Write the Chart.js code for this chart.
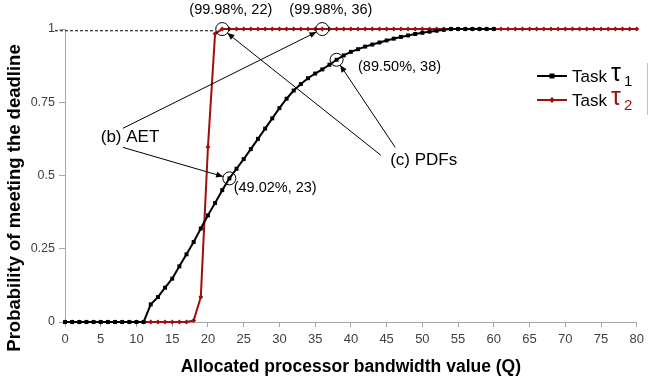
<!DOCTYPE html>
<html>
<head>
<meta charset="utf-8">
<script src="https://cdn.jsdelivr.net/npm/chart.js@4/dist/chart.umd.min.js"></script>
<style>
  html, body { margin: 0; padding: 0; background: #fff; }
  #wrap { width: 649px; height: 381px; position: relative; }
</style>
</head>
<body>
<div id="wrap"><canvas id="chart"></canvas></div>
<script>
// --- Data ---
const qValues = [
  0, 1, 2, 3, 4, 5, 6, 7, 8, 9, 10, 11, 12, 13, 14, 15, 16, 17, 18, 19, 20,
  21, 22, 23, 24, 25, 26, 27, 28, 29, 30, 31, 32, 33, 34, 35, 36, 37, 38, 39, 40,
  41, 42, 43, 44, 45, 46, 47, 48, 49, 50, 51, 52, 53, 54, 55, 56, 57, 58, 59, 60,
  61, 62, 63, 64, 65, 66, 67, 68, 69, 70, 71, 72, 73, 74, 75, 76, 77, 78, 79, 80
];

// Task tau1 (black), Q = 0..60
const task1Prob = [
  0, 0, 0, 0, 0, 0, 0, 0, 0, 0, 0, 0,
  0.06, 0.085, 0.117, 0.148, 0.19, 0.231, 0.273, 0.319, 0.364,
  0.406, 0.45, 0.4902, 0.523, 0.556, 0.59, 0.625, 0.66, 0.695, 0.73,
  0.762, 0.79, 0.812, 0.832, 0.848, 0.862, 0.878, 0.895, 0.91, 0.922,
  0.931, 0.94, 0.947, 0.954, 0.961, 0.967, 0.973, 0.978, 0.983, 0.987,
  0.991, 0.994, 0.997, 1, 1, 1, 1, 1, 1, 1
];

// Task tau2 (dark red), Q = 0..80
const task2Prob = [
  0, 0, 0, 0, 0, 0, 0, 0, 0, 0, 0, 0, 0, 0, 0, 0, 0, 0,
  0.005, 0.085, 0.597, 0.984,
  0.9998, 0.9998, 0.9998, 0.9998, 0.9998, 0.9998, 0.9998, 0.9998, 0.9998, 0.9998,
  0.9998, 0.9998, 0.9998, 0.9998, 0.9998, 0.9998, 0.9998, 0.9998, 0.9998, 0.9998,
  0.9998, 0.9998, 0.9998, 0.9998, 0.9998, 0.9998, 0.9998, 0.9998, 0.9998, 0.9998,
  0.9998, 0.9998, 0.9998, 0.9998, 0.9998, 0.9998, 0.9998, 0.9998, 0.9998, 0.9998,
  0.9998, 0.9998, 0.9998, 0.9998, 0.9998, 0.9998, 0.9998, 0.9998, 0.9998, 0.9998,
  0.9998, 0.9998, 0.9998, 0.9998, 0.9998, 0.9998, 0.9998, 0.9998, 0.9998
];

const yTicks = [0, 0.25, 0.5, 0.75, 1];
const yTickLabels = ["0", "0.25", "0.5", "0.75", "1"];

const xTitle = "Allocated processor bandwidth value (Q)";
const yTitle = "Probability of meeting the deadline";

// highlighted points [Q, probability, label]
const marked = [
  { q: 22, p: 0.9998, label: "(99.98%, 22)" },
  { q: 36, p: 0.9998, label: "(99.98%, 36)" },
  { q: 23, p: 0.4902, label: "(49.02%, 23)" },
  { q: 38, p: 0.895, label: "(89.50%, 38)" }
];

const BLACK = "#000000";
const RED = "#9c1010";
const FONT = "'Liberation Sans', Arial, sans-serif";

// --- annotation plugin: circles, arrows, notes, legend, y title ---
const notesPlugin = {
  id: "notes",
  afterDatasetsDraw(chart) {
    const { ctx, scales } = chart;
    const X = (v) => scales.x.getPixelForValue(v);
    const Y = (v) => scales.y.getPixelForValue(v);
    const R = 6.5;

    ctx.save();

    // dashed reference line at the top
    ctx.strokeStyle = "#000";
    ctx.lineWidth = 1;
    ctx.setLineDash([3, 2]);
    ctx.beginPath();
    ctx.moveTo(X(-1.4), Y(0.994));
    ctx.lineTo(X(21), Y(0.994));
    ctx.stroke();
    ctx.setLineDash([]);

    // circles
    marked.forEach((m) => {
      ctx.beginPath();
      ctx.arc(X(m.q), Y(m.p), R, 0, Math.PI * 2);
      ctx.stroke();
    });

    function arrow(fq, fp, target) {
      const x0 = X(fq), y0 = Y(fp);
      const cx = X(target.q), cy = Y(target.p);
      const dx = cx - x0, dy = cy - y0;
      const len = Math.hypot(dx, dy);
      const ux = dx / len, uy = dy / len;
      const x1 = cx - ux * R, y1 = cy - uy * R;
      ctx.beginPath();
      ctx.moveTo(x0, y0);
      ctx.lineTo(x1, y1);
      ctx.stroke();
      const hl = 7, hw = 3;
      ctx.beginPath();
      ctx.moveTo(x1, y1);
      ctx.lineTo(x1 - ux * hl - uy * hw, y1 - uy * hl + ux * hw);
      ctx.lineTo(x1 - ux * hl + uy * hw, y1 - uy * hl - ux * hw);
      ctx.closePath();
      ctx.fillStyle = "#000";
      ctx.fill();
    }
    arrow(8.1, 0.661, marked[1]);
    arrow(8.1, 0.596, marked[2]);
    arrow(44.2, 0.569, marked[0]);
    arrow(46.2, 0.596, marked[3]);

    // notes
    ctx.fillStyle = "#000";
    ctx.textBaseline = "middle";
    ctx.font = "14.5px " + FONT;
    ctx.textAlign = "center";
    ctx.fillText(marked[0].label, X(23.2), Y(1.064));
    ctx.fillText(marked[1].label, X(37.2), Y(1.064));
    ctx.textAlign = "left";
    ctx.fillText(marked[2].label, X(23.6), Y(0.456));
    ctx.fillText(marked[3].label, X(41), Y(0.869));
    ctx.font = "17px " + FONT;
    ctx.fillText("(b) AET", X(5.0), Y(0.63));
    ctx.fillText("(c) PDFs", X(45.5), Y(0.552));

    // y axis title
    ctx.save();
    ctx.translate(15, 198);
    ctx.rotate(-Math.PI / 2);
    ctx.textAlign = "center";
    ctx.font = "bold 18.5px " + FONT;
    ctx.fillText(yTitle, 0, 0);
    ctx.restore();

    // legend
    const rows = [
      { color: BLACK, sub: "1", tauColor: "#000", y: 76, style: "rect" },
      { color: RED, sub: "2", tauColor: RED, y: 100, style: "diamond" }
    ];
    rows.forEach((r) => {
      ctx.strokeStyle = r.color;
      ctx.lineWidth = 2;
      ctx.beginPath();
      ctx.moveTo(537, r.y);
      ctx.lineTo(567, r.y);
      ctx.stroke();
      ctx.fillStyle = r.color;
      if (r.style === "rect") {
        ctx.fillRect(549.5, r.y - 2.5, 5, 5);
      } else {
        ctx.beginPath();
        ctx.moveTo(552, r.y - 3);
        ctx.lineTo(555, r.y);
        ctx.lineTo(552, r.y + 3);
        ctx.lineTo(549, r.y);
        ctx.closePath();
        ctx.fill();
      }
      ctx.fillStyle = "#000";
      ctx.textAlign = "left";
      ctx.textBaseline = "alphabetic";
      ctx.font = "17px " + FONT;
      ctx.fillText("Task", 572, r.y + 6);
      ctx.fillStyle = r.tauColor;
      ctx.font = "25px " + FONT;
      ctx.fillText("\u03C4", 611, r.y + 5);
      ctx.font = "15px " + FONT;
      ctx.fillText(r.sub, 624, r.y + 10);
    });
    ctx.strokeStyle = "#bfbfbf";
    ctx.lineWidth = 1;
    ctx.beginPath();
    ctx.moveTo(647.5, 63);
    ctx.lineTo(647.5, 115);
    ctx.stroke();

    ctx.restore();
  }
};

const ctx = document.getElementById("chart").getContext("2d");
new Chart(ctx, {
  type: "line",
  data: {
    datasets: [
      {
        label: "Task \u03C41",
        data: task1Prob.map((v, i) => ({ x: qValues[i], y: v })),
        borderColor: BLACK,
        backgroundColor: BLACK,
        borderWidth: 2,
        pointStyle: "rect",
        pointRadius: 2.8,
        pointBorderWidth: 0,
        tension: 0
      },
      {
        label: "Task \u03C42",
        data: task2Prob.map((v, i) => ({ x: qValues[i], y: v })),
        borderColor: RED,
        backgroundColor: RED,
        borderWidth: 2,
        pointStyle: "rectRot",
        pointRadius: 2.5,
        pointBorderWidth: 0,
        tension: 0
      }
    ]
  },
  options: {
    responsive: true,
    maintainAspectRatio: false,
    animation: false,
    clip: false,
    layout: { padding: { top: 29, right: 10, left: 0, bottom: 0 } },
    plugins: {
      legend: { display: false },
      tooltip: { enabled: false }
    },
    scales: {
      x: {
        type: "linear",
        min: 0,
        max: 80,
        afterFit: (s) => { s.height = 59; },
        ticks: {
          stepSize: 5,
          color: "#404040",
          font: { family: FONT, size: 13 },
          padding: 5,
          maxRotation: 0
        },
        grid: { drawOnChartArea: false, tickLength: 5, color: "#a6a6a6" },
        border: { color: "#a6a6a6" },
        title: {
          display: true,
          text: xTitle,
          color: "#000",
          font: { family: FONT, size: 17.5, weight: "bold" },
          padding: { top: 0, bottom: 3 }
        }
      },
      y: {
        min: 0,
        max: 1,
        afterFit: (s) => { s.width = 65; },
        afterBuildTicks: (s) => { s.ticks = yTicks.map((v) => ({ value: v })); },
        ticks: {
          color: "#404040",
          font: { family: FONT, size: 12.5 },
          padding: 4,
          callback: (v) => yTickLabels[yTicks.indexOf(v)]
        },
        grid: { drawOnChartArea: false, tickLength: 6, color: "#a6a6a6" },
        border: { color: "#a6a6a6" }
      }
    }
  },
  plugins: [notesPlugin]
});
</script>
</body>
</html>
